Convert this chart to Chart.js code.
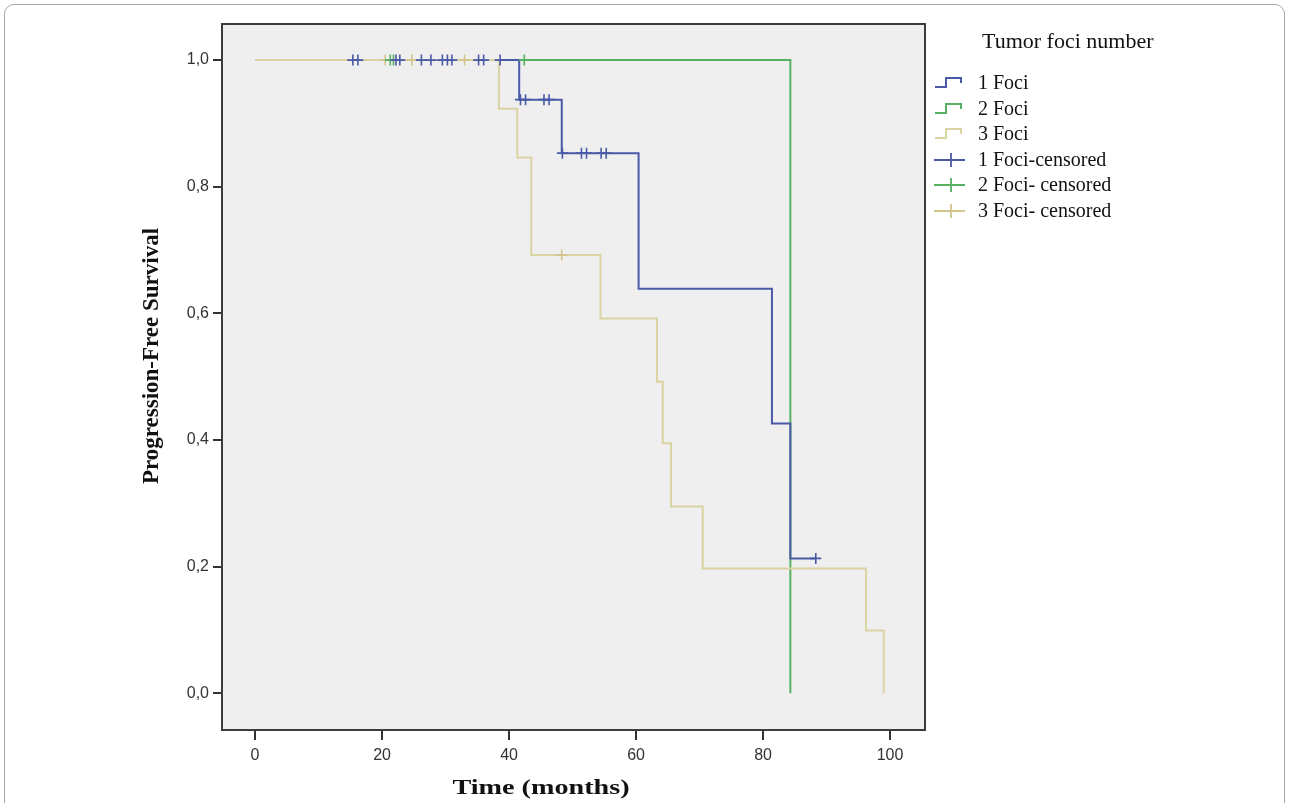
<!DOCTYPE html>
<html>
<head>
<meta charset="utf-8">
<script src="https://cdn.jsdelivr.net/npm/chart.js@4.4.0/dist/chart.umd.min.js"></script>
<style>
  body { margin: 0; background: #fff; width: 1290px; height: 803px; overflow: hidden; position: relative; }
  #frame { position: absolute; left: 4px; top: 4px; width: 1279px; height: 860px; border: 1.5px solid #a8a8a8; border-radius: 10px; }
  #chart { position: absolute; left: 0; top: 0; }
  #legend { position: absolute; left: 0; top: 0; font-family: "Liberation Serif", "Times New Roman", serif; color: #111; }
  #legend .ttl { position: absolute; left: 982px; top: 28px; font-size: 22px; white-space: nowrap; }
  #legend .row { position: absolute; left: 934px; height: 22px; white-space: nowrap; font-size: 20px; line-height: 22px; }
  #legend svg { position: absolute; left: 0; top: 4px; }
  #legend span { position: absolute; left: 44px; top: 0; }
</style>
</head>
<body>
<div id="frame"></div>
<canvas id="chart" width="1290" height="803"></canvas>
<div id="legend"></div>
<script>
// Courbes de Kaplan-Meier : temps (mois) et survie aprÃ¨s chaque Ã©vÃ©nement
const foci1Time = [0, 41.6, 48.3, 60.4, 81.4, 84.3, 88.3];
const foci1Surv = [1, 0.9375, 0.853, 0.639, 0.426, 0.213, 0.213];
const foci2Time = [0, 84.3];
const foci2Surv = [1, 0];
const foci3Time = [0, 38.4, 41.3, 43.5, 54.4, 63.3, 64.2, 65.5, 70.5, 96.2, 99.0];
const foci3Surv = [1, 0.923, 0.846, 0.692, 0.592, 0.492, 0.395, 0.295, 0.197, 0.099, 0];

// Observations censurÃ©es
const cens1Time = [15.4, 16.2, 22.2, 22.8, 26.2, 27.7, 29.5, 30.3, 31.0, 35.2, 36.0, 38.6,
                   41.8, 42.6, 45.5, 46.3, 48.4, 51.4, 52.2, 54.5, 55.3, 88.3];
const cens1Surv = [1, 1, 1, 1, 1, 1, 1, 1, 1, 1, 1, 1,
                   0.9375, 0.9375, 0.9375, 0.9375, 0.853, 0.853, 0.853, 0.853, 0.853, 0.213];
const cens2Time = [21.3, 21.8, 42.4];
const cens2Surv = [1, 1, 1];
const cens3Time = [20.5, 24.7, 33.0, 48.3];
const cens3Surv = [1, 1, 1, 0.692];

const xTicks = [0, 20, 40, 60, 80, 100];
const yTicks = [0, 0.2, 0.4, 0.6, 0.8, 1.0];

const legendLabels = ["1 Foci", "2 Foci", "3 Foci", "1 Foci-censored", "2 Foci- censored", "3 Foci- censored"];
const xTitle = 'Time (months)';
const yTitle = 'Progression-Free Survival';

const BLUE = '#4a5aa6';
const GREEN = '#58b062';
const BEIGE = '#dad3a2';
const BEIGE_MARK = '#d2c58e';

function toPoints(xs, ys) {
    return xs.map((x, i) => ({ x: x, y: ys[i] }));
}

function stepSet(label, xs, ys, color, order) {
    return {
        label: label,
        data: toPoints(xs, ys),
        showLine: true,
        borderColor: color,
        borderWidth: 2,
        stepped: true,
        pointRadius: 0,
        fill: false,
        order: order
    };
}

function censSet(label, xs, ys, color, order) {
    return {
        label: label,
        data: toPoints(xs, ys),
        showLine: false,
        pointStyle: 'cross',
        pointRadius: 5.5,
        borderColor: color,
        borderWidth: 1.6,
        order: order
    };
}

// fond gris + cadre de la zone de tracÃ© + titres des axes
const plotFrame = {
    id: 'plotFrame',
    beforeDatasetsDraw(chart) {
        const a = chart.chartArea;
        const ctx = chart.ctx;
        ctx.save();
        ctx.fillStyle = '#efefef';
        ctx.fillRect(a.left, a.top, a.right - a.left, a.bottom - a.top);
        ctx.restore();
    },
    afterDraw(chart) {
        const a = chart.chartArea;
        const ctx = chart.ctx;
        ctx.save();
        ctx.strokeStyle = '#3c3c3c';
        ctx.lineWidth = 2;
        ctx.strokeRect(a.left, a.top, a.right - a.left, a.bottom - a.top);

        ctx.fillStyle = '#111';
        ctx.textAlign = 'center';
        ctx.textBaseline = 'middle';
        // titre axe X (Ã©tirÃ© horizontalement comme dans l'original)
        ctx.save();
        ctx.translate(541, 788);
        ctx.scale(1.28, 1);
        ctx.font = 'bold 22px "Liberation Serif", "Times New Roman", serif';
        ctx.fillText(xTitle, 0, 0);
        ctx.restore();
        // titre axe Y
        ctx.save();
        ctx.translate(152, 356);
        ctx.rotate(-Math.PI / 2);
        ctx.font = 'bold 23px "Liberation Serif", "Times New Roman", serif';
        ctx.fillText(yTitle, 0, 0);
        ctx.restore();
        ctx.restore();
    }
};

const ctx = document.getElementById('chart').getContext('2d');
new Chart(ctx, {
    type: 'scatter',
    data: {
        datasets: [
            stepSet(legendLabels[0], foci1Time, foci1Surv, BLUE, 2),
            stepSet(legendLabels[1], foci2Time, foci2Surv, GREEN, 3),
            stepSet(legendLabels[2], foci3Time, foci3Surv, BEIGE, 1),
            censSet(legendLabels[3], cens1Time, cens1Surv, BLUE, 0),
            censSet(legendLabels[4], cens2Time, cens2Surv, GREEN, 0),
            censSet(legendLabels[5], cens3Time, cens3Surv, BEIGE_MARK, 0)
        ]
    },
    options: {
        responsive: false,
        animation: false,
        layout: { padding: { left: 140, top: 24, right: 365, bottom: 2 } },
        plugins: {
            legend: { display: false },
            tooltip: { enabled: false }
        },
        scales: {
            x: {
                type: 'linear',
                min: -5.2,
                max: 105.5,
                afterBuildTicks: s => { s.ticks = xTicks.map(v => ({ value: v })); },
                afterFit: s => { s.height = 71; },
                border: { display: false },
                grid: { drawOnChartArea: false, drawTicks: true, tickLength: 10, color: '#333', lineWidth: 2 },
                ticks: {
                    padding: 6,
                    color: '#333',
                    font: { family: '"Liberation Sans", Arial, sans-serif', size: 16 }
                }
            },
            y: {
                min: -0.058,
                max: 1.057,
                afterBuildTicks: s => { s.ticks = yTicks.map(v => ({ value: v })); },
                afterFit: s => { s.width = 82; },
                border: { display: false },
                grid: { drawOnChartArea: false, drawTicks: true, tickLength: 9, color: '#333', lineWidth: 2 },
                ticks: {
                    padding: 4,
                    color: '#333',
                    font: { family: '"Liberation Sans", Arial, sans-serif', size: 16 },
                    callback: v => v.toFixed(1).replace('.', ',')
                }
            }
        }
    },
    plugins: [plotFrame]
});

// LÃ©gende HTML
const legendColors = [BLUE, GREEN, BEIGE, BLUE, GREEN, BEIGE_MARK];
const legend = document.getElementById('legend');
legend.innerHTML = '<div class="ttl">Tumor foci number</div>';
legendLabels.forEach((lab, i) => {
    const top = 71 + i * 25.5;
    const icon = i < 3
        ? '<path d="M1,12 H12 V3 H27 V8" fill="none" stroke="' + legendColors[i] + '" stroke-width="2"/>'
        : '<path d="M0,8 H31 M17,1 V15" fill="none" stroke="' + legendColors[i] + '" stroke-width="1.8"/>';
    legend.innerHTML += '<div class="row" style="top:' + top + 'px"><svg width="34" height="16">' + icon +
        '</svg><span>' + lab + '</span></div>';
});
</script>
</body>
</html>
